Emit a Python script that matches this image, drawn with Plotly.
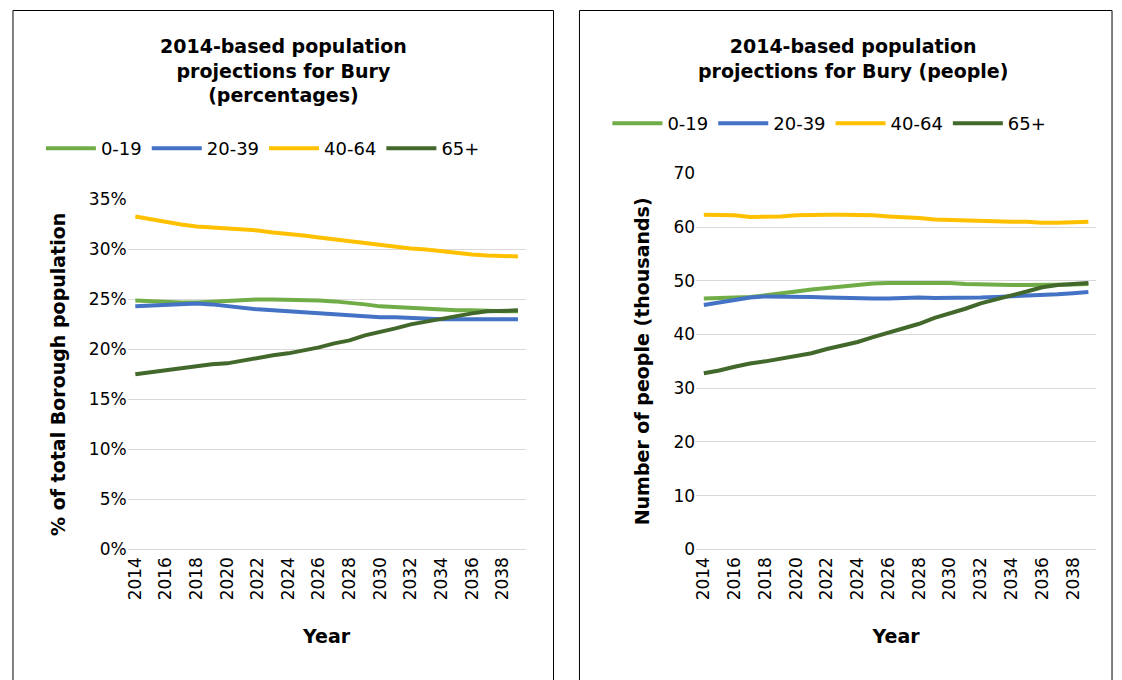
import plotly.graph_objects as go

years = list(range(2014, 2040))
series_names = ["0-19", "20-39", "40-64", "65+"]
colors = ["#70AD47", "#4472C4", "#FFC000", "#43682B"]

pct_0_19 = [24.9,24.8,24.7,24.7,24.7,24.8,24.9,24.9,25.0,25.0,25.0,25.0,24.9,24.8,24.7,24.5,24.3,24.2,24.1,24.0,24.0,23.9,23.9,23.8,23.8,23.8]
pct_20_39 = [24.3,24.4,24.5,24.6,24.6,24.5,24.3,24.2,24.0,23.9,23.8,23.6,23.5,23.5,23.4,23.3,23.2,23.2,23.1,23.1,23.0,23.0,23.0,23.0,23.0,23.0]
pct_40_64 = [33.3,33.0,32.8,32.5,32.3,32.2,32.2,32.0,31.9,31.7,31.6,31.4,31.2,31.0,30.8,30.6,30.4,30.3,30.1,30.0,29.8,29.7,29.5,29.4,29.4,29.3]
pct_65 = [17.5,17.7,17.9,18.2,18.3,18.5,18.6,18.9,19.1,19.4,19.6,19.9,20.2,20.6,20.9,21.4,21.7,22.1,22.5,22.8,23.1,23.3,23.6,23.8,23.9,23.9]

ppl_0_19 = [46.7,46.8,46.9,47.0,47.3,47.6,48.0,48.4,48.7,49.0,49.3,49.5,49.6,49.6,49.7,49.6,49.6,49.4,49.3,49.2,49.2,49.2,49.2,49.2,49.3,49.4]
ppl_20_39 = [45.5,46.0,46.4,46.9,47.1,47.1,47.0,47.0,46.9,46.8,46.8,46.7,46.7,46.8,46.9,46.8,46.8,46.8,46.9,47.0,47.1,47.2,47.3,47.5,47.7,47.9]
ppl_40_64 = [62.3,62.2,62.2,61.9,61.9,62.0,62.2,62.3,62.3,62.3,62.3,62.2,62.0,61.9,61.7,61.4,61.3,61.3,61.1,61.1,61.0,61.0,60.8,60.8,60.9,61.0]
ppl_65 = [32.8,33.3,34.0,34.6,35.0,35.5,35.9,36.5,37.3,38.0,38.6,39.5,40.3,41.2,42.0,43.1,43.9,44.8,45.8,46.6,47.3,48.0,48.8,49.2,49.4,49.6]

pct = [pct_0_19, pct_20_39, pct_40_64, pct_65]
ppl = [ppl_0_19, ppl_20_39, ppl_40_64, ppl_65]

FONT = "DejaVu Sans"
fig = go.Figure()
for name, c, v in zip(series_names, colors, pct):
    fig.add_trace(go.Scatter(x=years, y=[x/100 for x in v], name=name, mode="lines",
                             line=dict(color=c, width=4), xaxis="x", yaxis="y", legend="legend"))
for name, c, v in zip(series_names, colors, ppl):
    fig.add_trace(go.Scatter(x=years, y=v, name=name, mode="lines",
                             line=dict(color=c, width=4), xaxis="x2", yaxis="y2", legend="legend2"))

W, H = 1122, 680
def px(x): return x / W
def py(y):
    yy = (y - 9.5) / 0.971
    return 1 - yy / H

xcommon = dict(tickmode="linear", dtick=2, tick0=2014, tickangle=-90, showgrid=False,
               showline=True, linecolor="#D9D9D9", ticks="", zeroline=False,
               tickfont=dict(size=17, color="black", family=FONT), range=[2013.5, 2039.5],
               title=dict(text="<b>Year</b>", font=dict(size=19, color="black", family=FONT), standoff=30))
ycommon = dict(showgrid=True, gridcolor="#D9D9D9", zeroline=False, ticks="",
               tickfont=dict(size=17, color="black", family=FONT))

fig.update_layout(
    width=W, height=H, margin=dict(l=0, r=0, t=0, b=0),
    paper_bgcolor="white", plot_bgcolor="white",
    font=dict(family=FONT, color="black"),
    xaxis=dict(domain=[px(125), px(524)], anchor="y", **xcommon),
    yaxis=dict(domain=[py(549), py(199)], anchor="x", range=[0, 0.35], dtick=0.05, tickformat=".0%",
               title=dict(text="<b>% of total Borough population</b>", font=dict(size=19, color="black", family=FONT), standoff=18),
               **ycommon),
    xaxis2=dict(domain=[px(695), px(1096)], anchor="y2", **xcommon),
    yaxis2=dict(domain=[py(549), py(173)], anchor="x2", range=[0, 70], dtick=10,
                title=dict(text="<b>Number of people (thousands)</b>", font=dict(size=19, color="black", family=FONT), standoff=18),
                **ycommon),
    legend=dict(orientation="h", x=px(38), y=py(148), yanchor="middle", xanchor="left",
                font=dict(size=18, family=FONT), itemwidth=50, tracegroupgap=0, bgcolor="rgba(0,0,0,0)"),
    legend2=dict(orientation="h", x=px(606), y=py(123), yanchor="middle", xanchor="left",
                 font=dict(size=18, family=FONT), itemwidth=50, tracegroupgap=0, bgcolor="rgba(0,0,0,0)"),
    shapes=[
        dict(type="rect", xref="paper", yref="paper", x0=px(10), x1=px(552), y0=py(700), y1=py(10),
             line=dict(color="black", width=1)),
        dict(type="rect", xref="paper", yref="paper", x0=px(578), x1=px(1112), y0=py(700), y1=py(10),
             line=dict(color="black", width=1)),
    ],
    annotations=[
        dict(text="<b>2014-based population<br>projections for Bury<br>(percentages)</b>", xref="paper", yref="paper",
             x=px(281), y=py(33), xanchor="center", yanchor="top", showarrow=False,
             font=dict(size=19, family=FONT, color="black")),
        dict(text="<b>2014-based population<br>projections for Bury (people)</b>", xref="paper", yref="paper",
             x=px(852), y=py(33), xanchor="center", yanchor="top", showarrow=False,
             font=dict(size=19, family=FONT, color="black")),
    ],
)
fig.write_html("out.html", config={"responsive": False, "displayModeBar": False},
               post_script="document.body.style.margin='0';document.body.style.overflow='hidden';")
